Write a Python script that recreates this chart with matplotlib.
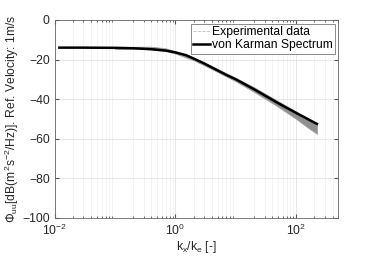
import matplotlib
matplotlib.use('Agg')
import matplotlib.pyplot as plt
from matplotlib.lines import Line2D
from matplotlib.ticker import LogLocator

plt.rcParams['font.family'] = ['Liberation Sans', 'DejaVu Sans']
plt.rcParams['mathtext.fontset'] = 'custom'
plt.rcParams['mathtext.rm'] = 'Liberation Sans'
plt.rcParams['mathtext.it'] = 'Liberation Sans'
plt.rcParams['mathtext.default'] = 'regular'
plt.rcParams['font.size'] = 8.7

# von Karman curve
k_vk = [0.012, 0.03, 0.1, 0.2, 0.4, 0.7, 1, 1.5, 2, 3, 5, 7, 10, 20, 50, 100, 220]
phi_vk = [-14, -14, -14.1, -14.3, -14.8, -15.5, -16.4, -17.8, -19.5, -22, -25.5,
          -27.8, -30, -35, -42, -47, -52.5]

# experimental data envelope
k_exp = [0.1, 0.2, 0.4, 0.7, 1, 2, 5, 10, 20, 50, 100, 150, 220]
exp_upper = [-14.2, -13.6, -13.5, -14.4, -15.9, -19.0, -24.8, -29.3, -34.0, -41.0, -46.3, -49.3, -52.3]
exp_lower = [-14.6, -14.6, -14.9, -15.8, -17.0, -20.3, -26.3, -31.0, -36.3, -43.8, -50.0, -54.0, -57.5]

fig = plt.figure(figsize=(3.74, 2.62), dpi=100)
ax = fig.add_axes([0.146, 0.168, 0.759, 0.756])

ax.fill_between(k_exp, exp_lower, exp_upper, color='#8f8f8f', linewidth=0.6, edgecolor='#a0a0a0')
ax.plot(k_vk, phi_vk, color='black', linewidth=1.8)

ax.set_xscale('log')
ax.set_xlim(0.01, 500)
ax.set_ylim(-100, 0)
ax.set_yticks([-100, -80, -60, -40, -20, 0])
ax.set_xticks([0.01, 1, 100])
ax.xaxis.set_minor_locator(LogLocator(base=10, subs=range(2, 10), numticks=20))

ax.grid(True, which='major', color='#e3e3e3', linewidth=0.6)
ax.grid(True, which='minor', axis='x', color='#efefef', linewidth=0.5)
ax.set_axisbelow(True)

ax.tick_params(which='both', direction='in', top=True, right=True, colors='#555555',
               labelcolor='#262626', labelsize=8.7)
ax.tick_params(which='major', length=3)
ax.tick_params(which='minor', length=1.5)
for s in ax.spines.values():
    s.set_color('#666666')
    s.set_linewidth(0.6)

ax.set_xlabel('k$_x$/k$_e$ [-]', color='#262626', labelpad=1)
ax.set_ylabel('Φ$_{uu}$[dB(m$^2$s$^{-2}$/Hz)]. Ref. Velocity: 1m/s', color='#262626', labelpad=1)

handles = [Line2D([], [], color='#bdbdbd', linestyle='--', linewidth=0.6),
           Line2D([], [], color='black', linewidth=1.8)]
leg = ax.legend(handles, ['Experimental data', 'von Karman Spectrum'], loc='upper right',
                fancybox=False, edgecolor='#777777', framealpha=1, fontsize=8.7,
                handlelength=1.4, handletextpad=0.15, borderpad=0.2, labelspacing=0.1,
                borderaxespad=0.3)
leg.get_frame().set_linewidth(0.6)

fig.savefig('out.png', dpi=100)
